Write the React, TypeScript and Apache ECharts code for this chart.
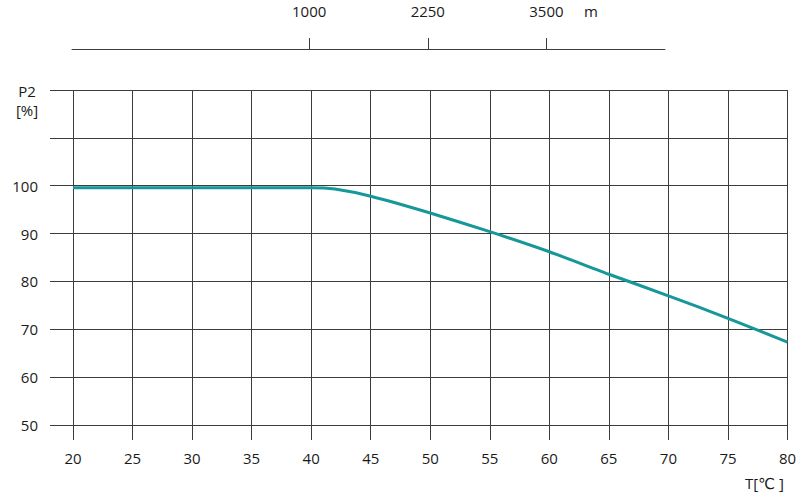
import React, { useEffect, useRef } from "react";
import * as echarts from "echarts";

const temperature = [20, 40, 42, 45, 50, 55, 60, 65, 70, 75, 80];
const power = [99.6, 99.6, 99.3, 97.8, 94.3, 90.4, 86.2, 81.5, 77.0, 72.3, 67.3];
const altitudeTicks = [1000, 2250, 3500];
const yLabelValues = [50, 60, 70, 80, 90, 100];

const FONT = "'Open Sans', 'DejaVu Sans', sans-serif";
const GRID_COLOR = "#3c3c3c";
const TEXT_COLOR = "#1a1a1a";
const LINE_COLOR = "#16979a";

export default function App() {
  const ref = useRef<HTMLDivElement>(null);

  useEffect(() => {
    document.body.style.margin = "0";
    if (!ref.current) return;
    const chart = echarts.init(ref.current, null, { renderer: "svg" });
    const data = temperature.map((t, i) => [t, power[i]]);
    chart.setOption({
      animation: false,
      backgroundColor: "#ffffff",
      textStyle: { fontFamily: FONT },
      grid: [
        { left: 73, right: 12.5, top: 90, bottom: 70, containLabel: false },
        { left: 72, width: 593, top: 39, height: 10, containLabel: false },
      ],
      xAxis: [
        {
          type: "value",
          gridIndex: 0,
          min: 20,
          max: 80,
          interval: 5,
          axisLine: { show: false },
          axisTick: { show: true, length: 15, lineStyle: { color: GRID_COLOR, width: 1 } },
          axisLabel: { margin: 25, color: TEXT_COLOR, fontSize: 15, fontFamily: FONT, showMaxLabel: true },
          splitLine: { show: true, lineStyle: { color: GRID_COLOR, width: 1 } },
        },
        {
          type: "value",
          gridIndex: 1,
          position: "top",
          min: -1500,
          max: 4750,
          axisLine: { show: true, lineStyle: { color: GRID_COLOR, width: 1 } },
          axisTick: {
            show: true,
            length: 11,
            customValues: altitudeTicks,
            lineStyle: { color: GRID_COLOR, width: 1 },
          },
          axisLabel: {
            show: true,
            customValues: altitudeTicks,
            margin: 21,
            color: TEXT_COLOR,
            fontSize: 15,
            fontFamily: FONT,
            formatter: (v: number) => String(v),
          },
          splitLine: { show: false },
        },
      ],
      yAxis: [
        {
          type: "value",
          gridIndex: 0,
          min: 50,
          max: 120,
          interval: 10,
          axisLine: { show: false },
          axisTick: { show: true, length: 23, lineStyle: { color: GRID_COLOR, width: 1 } },
          axisLabel: {
            margin: 35,
            color: TEXT_COLOR,
            fontSize: 15,
            fontFamily: FONT,
            formatter: (v: number) => (yLabelValues.includes(v) ? String(v) : ""),
          },
          splitLine: { show: true, lineStyle: { color: GRID_COLOR, width: 1 } },
        },
        {
          type: "value",
          gridIndex: 1,
          show: false,
        },
      ],
      graphic: [
        {
          type: "text",
          x: 27,
          y: 81,
          style: {
            text: "P2\n[%]",
            fontSize: 15,
            lineHeight: 19,
            fontFamily: FONT,
            fill: TEXT_COLOR,
            align: "center",
            verticalAlign: "top",
          },
        },
        { type: "text", left: 745, top: 475, style: { text: "T[℃ ]", fontSize: 15, fontFamily: FONT, fill: TEXT_COLOR } },
        { type: "text", left: 584, top: 3, style: { text: "m", fontSize: 15, fontFamily: FONT, fill: TEXT_COLOR } },
      ],
      series: [
        {
          type: "line",
          xAxisIndex: 0,
          yAxisIndex: 0,
          data,
          smooth: 0.2,
          showSymbol: false,
          symbol: "none",
          lineStyle: { color: LINE_COLOR, width: 3 },
        },
      ],
    });
    return () => chart.dispose();
  }, []);

  return <div ref={ref} style={{ width: 800, height: 495 }} />;
}
